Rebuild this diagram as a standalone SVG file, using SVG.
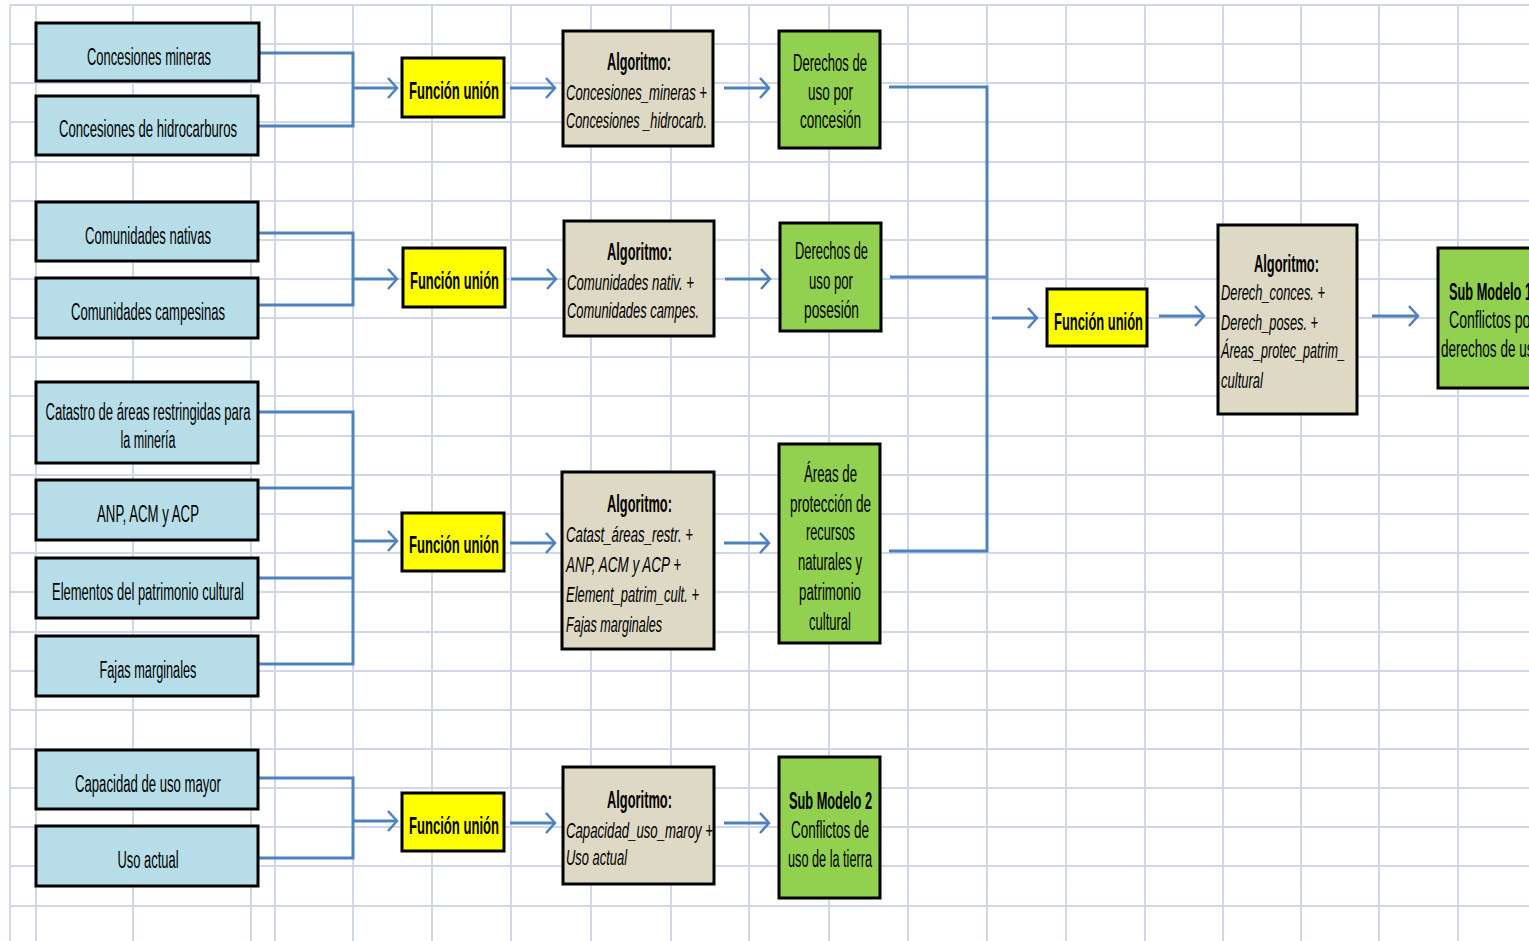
<svg xmlns="http://www.w3.org/2000/svg" width="1529" height="941" viewBox="0 0 1529 941">
<style>
.gr{stroke:#D0D8E8;stroke-width:2}
.bx{stroke:#000;stroke-width:3}
.blue{fill:#B7DEE8}
.yel{fill:#FFFF00}
.tan{fill:#DDD9C4}
.grn{fill:#92D050}
text{font-family:"Liberation Sans",Arial,sans-serif;font-size:23px;fill:#000}
.c{text-anchor:middle}
.b{font-weight:bold}
.i{font-style:italic;font-size:22px}
.cn{stroke:#4F81BD;stroke-width:3;fill:none}
.ar{marker-end:url(#ah)}
</style>
<defs>
<marker id="ah" markerUnits="userSpaceOnUse" markerWidth="14" markerHeight="24" viewBox="0 0 14 24" refX="11" refY="12" orient="auto">
<path d="M2,2 L11,12 L2,22" fill="none" stroke="#4F81BD" stroke-width="2.5"/>
</marker>
</defs>
<rect width="1529" height="941" fill="#fff"/>
<g id="grid">
<path class="gr" d="M10,5V941M36,5V941M133,5V941M251,5V941M275,5V941M353,5V941M432,5V941M511,5V941M591,5V941M671,5V941M749,5V941M829,5V941M908,5V941M987,5V941M1066,5V941M1145,5V941M1223,5V941M1301,5V941M1379,5V941M1458,5V941"/>
<path class="gr" d="M10,5H1529M10,44H1529M10,83H1529M10,122H1529M10,162H1529M10,201H1529M10,240H1529M10,279H1529M10,318H1529M10,357H1529M10,396H1529M10,436H1529M10,475H1529M10,514H1529M10,553H1529M10,592H1529M10,632H1529M10,671H1529M10,710H1529M10,749H1529M10,788H1529M10,827H1529M10,866H1529M10,906H1529"/>
</g>
<g id="connectors">
<path class="cn" d="M259,53H353V126H258"/>
<path class="cn ar" d="M353,88H397"/>
<path class="cn ar" d="M510,88H555"/>
<path class="cn ar" d="M724,88H769"/>
<path class="cn" d="M258,233H353V305H258"/>
<path class="cn ar" d="M353,279H397"/>
<path class="cn ar" d="M511,279H556"/>
<path class="cn ar" d="M725,279H770"/>
<path class="cn" d="M258,412H353V664H258M258,488H353M258,578H353"/>
<path class="cn ar" d="M353,541H397"/>
<path class="cn ar" d="M510,543H555"/>
<path class="cn ar" d="M724,543H769"/>
<path class="cn" d="M258,778H353V858H258"/>
<path class="cn ar" d="M353,821H397"/>
<path class="cn ar" d="M510,823H555"/>
<path class="cn ar" d="M724,823H769"/>
<path class="cn" d="M889,87H987V551H889M890,277H987"/>
<path class="cn ar" d="M992,318H1037"/>
<path class="cn ar" d="M1159,316H1204"/>
<path class="cn ar" d="M1372,316H1418"/>
</g>
<g id="n1"><rect class="bx blue" x="36" y="23" width="223" height="58"/><text class="c" x="149" y="65" textLength="124" lengthAdjust="spacingAndGlyphs">Concesiones mineras</text></g>
<g id="n2"><rect class="bx blue" x="36" y="96" width="222" height="59"/><text class="c" x="148" y="137" textLength="178" lengthAdjust="spacingAndGlyphs">Concesiones de hidrocarburos</text></g>
<g id="n3"><rect class="bx blue" x="36" y="202" width="222" height="59"/><text class="c" x="148" y="244" textLength="126" lengthAdjust="spacingAndGlyphs">Comunidades nativas</text></g>
<g id="n4"><rect class="bx blue" x="36" y="278" width="222" height="60"/><text class="c" x="148" y="320" textLength="154" lengthAdjust="spacingAndGlyphs">Comunidades campesinas</text></g>
<g id="n5"><rect class="bx blue" x="36" y="382" width="222" height="81"/><text class="c" x="148" y="420" textLength="205" lengthAdjust="spacingAndGlyphs">Catastro de áreas restringidas para</text><text class="c" x="148" y="448" textLength="55" lengthAdjust="spacingAndGlyphs">la minería</text></g>
<g id="n6"><rect class="bx blue" x="36" y="480" width="222" height="60"/><text class="c" x="148" y="522" textLength="102" lengthAdjust="spacingAndGlyphs">ANP, ACM y ACP</text></g>
<g id="n7"><rect class="bx blue" x="36" y="558" width="222" height="60"/><text class="c" x="148" y="600" textLength="192" lengthAdjust="spacingAndGlyphs">Elementos del patrimonio cultural</text></g>
<g id="n8"><rect class="bx blue" x="36" y="636" width="222" height="60"/><text class="c" x="148" y="678" textLength="97" lengthAdjust="spacingAndGlyphs">Fajas marginales</text></g>
<g id="n9"><rect class="bx blue" x="36" y="750" width="222" height="59"/><text class="c" x="148" y="792" textLength="146" lengthAdjust="spacingAndGlyphs">Capacidad de uso mayor</text></g>
<g id="n10"><rect class="bx blue" x="36" y="826" width="222" height="60"/><text class="c" x="148" y="868" textLength="61" lengthAdjust="spacingAndGlyphs">Uso actual</text></g>
<g id="f1"><rect class="bx yel" x="402" y="58" width="102" height="59"/><text class="c b" x="454" y="99" textLength="90" lengthAdjust="spacingAndGlyphs">Función unión</text></g>
<g id="f2"><rect class="bx yel" x="403" y="248" width="102" height="59"/><text class="c b" x="454.5" y="289" textLength="89" lengthAdjust="spacingAndGlyphs">Función unión</text></g>
<g id="f3"><rect class="bx yel" x="402" y="513" width="102" height="58"/><text class="c b" x="454" y="553" textLength="90" lengthAdjust="spacingAndGlyphs">Función unión</text></g>
<g id="f4"><rect class="bx yel" x="402" y="793" width="102" height="58"/><text class="c b" x="454" y="834" textLength="90" lengthAdjust="spacingAndGlyphs">Función unión</text></g>
<g id="f5"><rect class="bx yel" x="1047" y="289" width="100" height="57"/><text class="c b" x="1098.5" y="330" textLength="89" lengthAdjust="spacingAndGlyphs">Función unión</text></g>
<g id="a1"><rect class="bx tan" x="563" y="31" width="150" height="115"/>
<text class="c b" x="639" y="70" textLength="64" lengthAdjust="spacingAndGlyphs">Algoritmo:</text>
<text class="i" x="566" y="100" textLength="141" lengthAdjust="spacingAndGlyphs">Concesiones_mineras  +</text>
<text class="i" x="566" y="128" textLength="141" lengthAdjust="spacingAndGlyphs">Concesiones _hidrocarb.</text></g>
<g id="a2"><rect class="bx tan" x="564" y="221" width="150" height="115"/>
<text class="c b" x="639.5" y="260" textLength="65" lengthAdjust="spacingAndGlyphs">Algoritmo:</text>
<text class="i" x="567" y="290" textLength="127" lengthAdjust="spacingAndGlyphs">Comunidades  nativ. +</text>
<text class="i" x="567" y="318" textLength="132" lengthAdjust="spacingAndGlyphs">Comunidades  campes.</text></g>
<g id="a3"><rect class="bx tan" x="562" y="472" width="152" height="177"/>
<text class="c b" x="639.5" y="512" textLength="65" lengthAdjust="spacingAndGlyphs">Algoritmo:</text>
<text class="i" x="566" y="542" textLength="127" lengthAdjust="spacingAndGlyphs">Catast_áreas_restr. +</text>
<text class="i" x="566" y="572" textLength="115" lengthAdjust="spacingAndGlyphs">ANP, ACM y ACP +</text>
<text class="i" x="566" y="602" textLength="133" lengthAdjust="spacingAndGlyphs">Element_patrim_cult. +</text>
<text class="i" x="566" y="632" textLength="96" lengthAdjust="spacingAndGlyphs">Fajas marginales</text></g>
<g id="a4"><rect class="bx tan" x="563" y="767" width="151" height="117"/>
<text class="c b" x="639.5" y="808" textLength="65" lengthAdjust="spacingAndGlyphs">Algoritmo:</text>
<text class="i" x="566" y="838" textLength="147" lengthAdjust="spacingAndGlyphs">Capacidad_uso_maroy  +</text>
<text class="i" x="566" y="865" textLength="61" lengthAdjust="spacingAndGlyphs">Uso actual</text></g>
<g id="a5"><rect class="bx tan" x="1218" y="225" width="139" height="189"/>
<text class="c b" x="1286.5" y="272" textLength="65" lengthAdjust="spacingAndGlyphs">Algoritmo:</text>
<text class="i" x="1221" y="300" textLength="104" lengthAdjust="spacingAndGlyphs">Derech_conces. +</text>
<text class="i" x="1221" y="330" textLength="97" lengthAdjust="spacingAndGlyphs">Derech_poses. +</text>
<text class="i" x="1221" y="358" textLength="124" lengthAdjust="spacingAndGlyphs">Áreas_protec_patrim_</text>
<text class="i" x="1221" y="388" textLength="42" lengthAdjust="spacingAndGlyphs">cultural</text></g>
<g id="g1"><rect class="bx grn" x="779" y="31" width="101" height="117"/>
<text class="c" x="830" y="71" textLength="74" lengthAdjust="spacingAndGlyphs">Derechos de</text>
<text class="c" x="830.5" y="100" textLength="45" lengthAdjust="spacingAndGlyphs">uso por</text>
<text class="c" x="830.5" y="128" textLength="61" lengthAdjust="spacingAndGlyphs">concesión</text></g>
<g id="g2"><rect class="bx grn" x="780" y="223" width="101" height="108"/>
<text class="c" x="831.5" y="259" textLength="73" lengthAdjust="spacingAndGlyphs">Derechos de</text>
<text class="c" x="831" y="289" textLength="44" lengthAdjust="spacingAndGlyphs">uso por</text>
<text class="c" x="831.5" y="318" textLength="55" lengthAdjust="spacingAndGlyphs">posesión</text></g>
<g id="g3"><rect class="bx grn" x="779" y="444" width="101" height="199"/>
<text class="c" x="830.5" y="482" textLength="53" lengthAdjust="spacingAndGlyphs">Áreas de</text>
<text class="c" x="830.5" y="512" textLength="81" lengthAdjust="spacingAndGlyphs">protección de</text>
<text class="c" x="830.5" y="540" textLength="49" lengthAdjust="spacingAndGlyphs">recursos</text>
<text class="c" x="830" y="570" textLength="64" lengthAdjust="spacingAndGlyphs">naturales y</text>
<text class="c" x="830" y="600" textLength="62" lengthAdjust="spacingAndGlyphs">patrimonio</text>
<text class="c" x="830" y="630" textLength="42" lengthAdjust="spacingAndGlyphs">cultural</text></g>
<g id="g4"><rect class="bx grn" x="779" y="757" width="101" height="141"/>
<text class="c b" x="830.5" y="809" textLength="83" lengthAdjust="spacingAndGlyphs">Sub Modelo 2</text>
<text class="c" x="830" y="838" textLength="78" lengthAdjust="spacingAndGlyphs">Conflictos de</text>
<text class="c" x="830" y="867" textLength="84" lengthAdjust="spacingAndGlyphs">uso de la tierra</text></g>
<g id="g5"><rect class="bx grn" x="1438" y="248" width="101" height="140"/>
<text class="b" x="1449" y="300" textLength="83" lengthAdjust="spacingAndGlyphs">Sub Modelo 1</text>
<text x="1449" y="328" textLength="86" lengthAdjust="spacingAndGlyphs">Conflictos por</text>
<text x="1441" y="357" textLength="100" lengthAdjust="spacingAndGlyphs">derechos de uso</text></g>
</svg>
